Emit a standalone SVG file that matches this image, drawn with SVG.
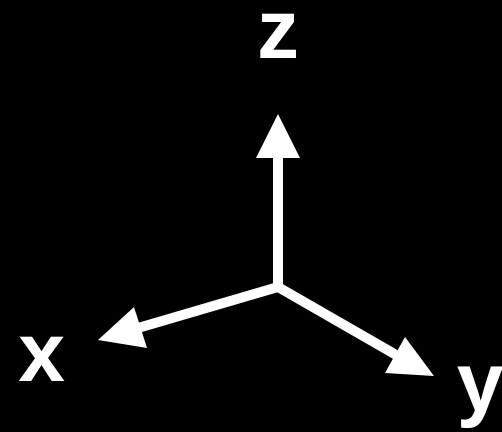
<svg xmlns="http://www.w3.org/2000/svg" width="502" height="432" viewBox="0 0 502 432">
<style>
.ax{stroke:#fff;stroke-width:10;fill:none}
.hd{fill:#fff}
.lb{font-family:"Liberation Sans",Arial,sans-serif;font-weight:bold;font-size:84px;fill:#fff;text-anchor:middle}
</style>
<rect width="502" height="432" fill="#000"/>
<g id="connectors">
<line class="ax" x1="278" y1="287" x2="278" y2="155"/>
<polygon class="hd" points="278,114 256,158 300,158"/>
<line class="ax" x1="278" y1="287" x2="138" y2="328"/>
<polygon class="hd" points="98,340 134,307 147,348"/>
<line class="ax" x1="278" y1="287" x2="398" y2="356"/>
<polygon class="hd" points="434,376 405,337 385,373"/>
</g>
<g id="z"><text class="lb" x="278" y="58">z</text></g>
<g id="x"><text class="lb" x="41.5" y="381">x</text></g>
<g id="y"><text class="lb" x="480" y="411">y</text></g>
</svg>
